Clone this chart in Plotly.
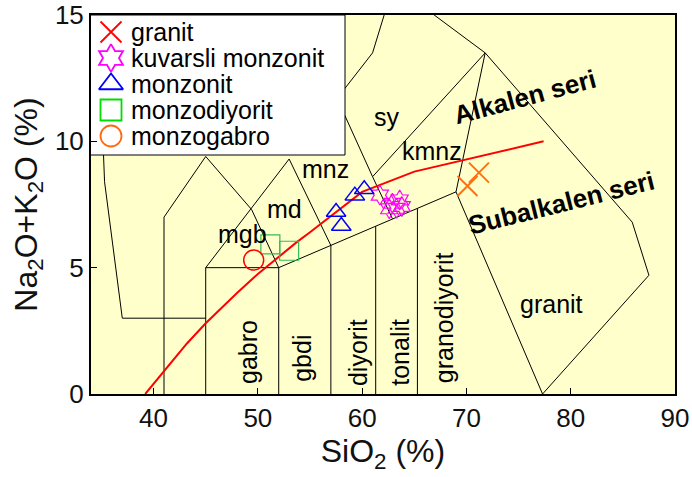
import plotly.graph_objects as go

# ---------------- data ----------------
# sample points (SiO2, Na2O+K2O)
granit_x = [70.1, 71.2]
granit_y = [8.23, 8.76]
kmonz_x = [61.7, 62.6, 62.9, 63.3, 63.6, 63.8]
kmonz_y = [7.87, 7.33, 7.55, 7.35, 7.68, 7.42]
monz_x = [57.5, 58.0, 59.3, 60.2]
monz_y = [7.2, 6.65, 7.85, 8.1]
mdiy_x = [51.2, 53.0]
mdiy_y = [5.92, 5.67]
mgab_x = [49.6]
mgab_y = [5.3]

# Irvine & Baragar (1971) alkaline / subalkaline divide
ib_x = [39.2, 40, 43.2, 45, 48, 50, 53.7, 55, 60, 65, 77.4]
ib_y = [0, 0.4, 2, 2.8, 4, 4.75, 6, 6.4, 8, 8.8, 10]

# field boundaries (Middlemost 1994, plutonic)
b_left_x = [37, 35.3, 35.15, 35.0]
b_left_y = [3, 8.4, 10, 15]
b_pg_x = [37, 45]
b_pg_y = [3, 3]
b_fg_x = [41, 41, 45, 49.4, 52]
b_fg_y = [0, 7, 9.4, 7.3, 5]
b_gab_x = [45, 45, 52, 52]
b_gab_y = [0, 5, 5, 0]
b_mgb_x = [45, 53]
b_mgb_y = [5, 9.3]
b_base_x = [52, 69]
b_base_y = [5, 8]
b_di_x = [57, 57]
b_di_y = [0, 5.88]
b_to_x = [61.3, 61.3]
b_to_y = [0, 6.64]
b_gd_x = [65.3, 65.3]
b_gd_y = [0, 7.35]
b_gr_x = [69, 77.3, 87.5, 85.9, 71.8, 69]
b_gr_y = [8, 0, 4.7, 6.8, 13.5, 8]
b_md_x = [53, 57]
b_md_y = [9.3, 5.88]
b_mnz_x = [62.9, 61, 57.6]
b_mnz_y = [6.94, 8.6, 11.7]
b_qm_x = [61, 71.8]
b_qm_y = [8.6, 13.5]
b_sy_x = [57.6, 61, 63]
b_sy_y = [11.7, 13.5, 16.2]
b_top_x = [71.8, 63]
b_top_y = [13.5, 16.2]

boundaries = [
    (b_left_x, b_left_y), (b_pg_x, b_pg_y), (b_fg_x, b_fg_y), (b_gab_x, b_gab_y),
    (b_mgb_x, b_mgb_y), (b_base_x, b_base_y), (b_di_x, b_di_y), (b_to_x, b_to_y),
    (b_gd_x, b_gd_y), (b_gr_x, b_gr_y), (b_md_x, b_md_y), (b_mnz_x, b_mnz_y),
    (b_qm_x, b_qm_y), (b_sy_x, b_sy_y), (b_top_x, b_top_y),
]

# field labels
field_labels = ["mgb", "md", "mnz", "kmnz", "sy", "granit",
                "gabro", "gbdi", "diyorit", "tonalit", "granodiyorit",
                "Alkalen seri", "Subalkalen seri"]
field_lx = [48.5, 52.6, 56.5, 66.7, 62.4, 78.2,
            49.05, 54.2, 59.6, 63.6, 67.85,
            75.6, 79.1]
field_ly = [6.33, 7.32, 8.9, 9.62, 10.96, 3.56,
            1.66, 1.42, 1.66, 1.66, 3.0,
            11.75, 7.56]
field_angle = [0, 0, 0, 0, 0, 0, -90, -90, -90, -90, -90, -15, -14]
field_bold = [False] * 11 + [True, True]

# legend (key colours differ from the plotted symbols in the original)
legend_names = ["granit", "kuvarsli monzonit", "monzonit", "monzodiyorit", "monzogabro"]
legend_symbols = ["x-thin-open", "hexagram-open", "triangle-up-open", "square-open", "circle-open"]
legend_colors = ["#FF0000", "#FF00FF", "#0000FF", "#00DD00", "#FF6A10"]

FONT = "Liberation Sans, Arial, sans-serif"

# ---------------- layout geometry (pixels) ----------------
W, H = 692, 477
ML, MR, MT, MB = 91, 17, 15, 83
PW, PH = W - ML - MR, H - MT - MB


def px2fx(px):
    return (px - ML) / PW


def py2fy(py):
    return (H - MB - py) / PH


fig = go.Figure()

for bx, by in boundaries:
    fig.add_trace(go.Scatter(x=bx, y=by, mode="lines",
                             line=dict(color="black", width=1),
                             showlegend=False, hoverinfo="skip"))

fig.add_trace(go.Scatter(x=ib_x, y=ib_y, mode="lines",
                         line=dict(color="#FF0000", width=2),
                         showlegend=False, hoverinfo="skip"))

fig.add_trace(go.Scatter(x=granit_x, y=granit_y, mode="markers", showlegend=False, name="granit",
                         marker=dict(symbol="x-thin-open", size=20, color="#FF7010",
                                     line=dict(width=2, color="#FF7010"))))
fig.add_trace(go.Scatter(x=kmonz_x, y=kmonz_y, mode="markers", showlegend=False, name="kuvarsli monzonit",
                         marker=dict(symbol="hexagram-open", size=15, color="#FF00FF",
                                     line=dict(width=1.2, color="#FF00FF"))))
fig.add_trace(go.Scatter(x=monz_x, y=monz_y, mode="markers", showlegend=False, name="monzonit",
                         marker=dict(symbol="triangle-up-open", size=17, color="#0000FF",
                                     line=dict(width=1.5, color="#0000FF"))))
fig.add_trace(go.Scatter(x=mdiy_x, y=mdiy_y, mode="markers", showlegend=False, name="monzodiyorit",
                         marker=dict(symbol="square-open", size=19, color="#33BB55",
                                     line=dict(width=1.2, color="#33BB55"))))
fig.add_trace(go.Scatter(x=mgab_x, y=mgab_y, mode="markers", showlegend=False, name="monzogabro",
                         marker=dict(symbol="circle-open", size=20, color="#FF0000",
                                     line=dict(width=1.5, color="#FF0000"))))

for t, x, y, a, b in zip(field_labels, field_lx, field_ly, field_angle, field_bold):
    fig.add_annotation(x=x, y=y, text=f"<b>{t}</b>" if b else t, showarrow=False,
                       textangle=a, xanchor="center", yanchor="middle",
                       font=dict(family=FONT, size=26 if b else 25, color="black"))

# ---- legend box drawn on an overlay subplot (so it sits above the field lines)
box_l, box_r, box_t, box_b = 89, 345, 15, 155
row0, row_step = 32, 26
key_px, text_px = 111, 129
fig.add_trace(go.Scatter(
    x=[px2fx(box_l), px2fx(box_r), px2fx(box_r), px2fx(box_l), px2fx(box_l)],
    y=[py2fy(box_t), py2fy(box_t), py2fy(box_b), py2fy(box_b), py2fy(box_t)],
    mode="lines", fill="toself", fillcolor="white",
    line=dict(color="black", width=1), xaxis="x2", yaxis="y2",
    showlegend=False, hoverinfo="skip", cliponaxis=False))
for i, (name, sym, col) in enumerate(zip(legend_names, legend_symbols, legend_colors)):
    ry = py2fy(row0 + i * row_step)
    fig.add_trace(go.Scatter(x=[px2fx(key_px)], y=[ry], mode="markers", xaxis="x2", yaxis="y2",
                             showlegend=False, hoverinfo="skip", cliponaxis=False,
                             marker=dict(symbol=sym, size=21, color=col,
                                         line=dict(width=1.8, color=col))))
    fig.add_annotation(xref="paper", yref="paper", x=px2fx(text_px), y=ry, text=name,
                       showarrow=False, xanchor="left", yanchor="middle",
                       font=dict(family=FONT, size=25, color="black"))

axis_common = dict(
    ticks="inside", ticklen=6, tickcolor="black", automargin=False,
    showline=True, linecolor="black", linewidth=2, mirror=True,
    showgrid=False, zeroline=False, ticklabeloverflow="allow",
    tickfont=dict(family=FONT, size=26, color="#111"),
)

fig.update_layout(
    width=W, height=H,
    margin=dict(l=ML, r=MR, t=MT, b=MB),
    paper_bgcolor="white", plot_bgcolor="#FFFFCC",
    font=dict(family=FONT, color="black"),
    showlegend=False,
    xaxis=dict(range=[34, 90], tickvals=[40, 50, 60, 70, 80, 90],
               title=dict(text="SiO<sub>2</sub> (%)", standoff=4,
                          font=dict(family=FONT, size=32, color="#111")),
               **axis_common),
    yaxis=dict(range=[0, 15], tickvals=[0, 5, 10, 15],
               title=dict(text="Na<sub>2</sub>O+K<sub>2</sub>O (%)", standoff=8,
                          font=dict(family=FONT, size=32, color="#111")),
               **axis_common),
    xaxis2=dict(overlaying="x", range=[0, 1], visible=False, anchor="y2", fixedrange=True),
    yaxis2=dict(overlaying="y", range=[0, 1], visible=False, anchor="x2", fixedrange=True),
)

# the browser's default 8px body margin would shift the fixed-size figure
fig.write_html("out.html", config={"displayModeBar": False},
               post_script="document.body.style.margin='0px';")
